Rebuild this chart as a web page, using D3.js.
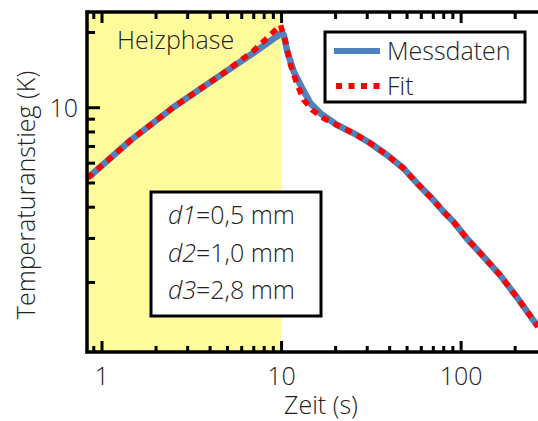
<!DOCTYPE html>
<html>
<head>
<meta charset="utf-8">
<script src="https://cdn.jsdelivr.net/npm/d3@7"></script>
<style>
  html, body { margin: 0; padding: 0; background: #fff; }
  svg { display: block; font-family: "Open Sans", "Noto Sans", sans-serif; font-weight: 300; }
</style>
</head>
<body>
<svg id="chart" width="538" height="421"></svg>
<script>
// ---- data ----
const measTime = [0.825, 0.87, 1.45, 2.51, 4.58, 6.99, 10.0, 10.3, 10.76, 11.7, 13.03, 14.49, 16.47, 20.39, 25.22, 31.22, 38.66, 47.8, 56.76, 70.18, 79.75, 90.62, 107.6, 133.0, 164.7, 203.9, 252.2, 268];
const measTemp = [5.25, 5.38, 7.43, 10.07, 13.5, 16.6, 19.9, 19.53, 16.75, 13.93, 11.96, 10.41, 9.5, 8.53, 7.9, 7.21, 6.47, 5.72, 4.99, 4.27, 3.84, 3.5, 3.0, 2.54, 2.14, 1.75, 1.415, 1.33];
const fitTime = [0.825, 0.87, 1.45, 2.51, 4.58, 6.99, 9.87, 10.52, 11.22, 12.23, 13.3, 14.81, 17.18, 21.27, 25.22, 31.22, 38.66, 47.8, 56.76, 70.18, 79.75, 90.62, 107.6, 133.0, 164.7, 203.9, 252.2, 268];
const fitTemp = [5.25, 5.38, 7.43, 10.07, 13.5, 16.9, 21.4, 18.37, 14.82, 12.33, 10.73, 9.79, 9.07, 8.39, 7.9, 7.21, 6.47, 5.72, 4.99, 4.27, 3.84, 3.5, 3.0, 2.54, 2.14, 1.75, 1.415, 1.33];
const heatEnd = 10;                 // end of the heating phase (s)
const xDomain = [0.825, 268];
const yDomain = [1.054, 24.15];
const xTickLabels = ["1", "10", "100"];
const yTickLabels = ["10"];
const seriesNames = ["Messdaten", "Fit"];
const noteLines = [["d1", "=0,5 mm"], ["d2", "=1,0 mm"], ["d3", "=2,8 mm"]];

// ---- layout ----
const L = 87, R = 538, T = 12, B = 352;
const svg = d3.select("#chart");
const x = d3.scaleLog().domain(xDomain).range([L, R]);
const y = d3.scaleLog().domain(yDomain).range([B, T]);
const ink = "#222";
const fontSize = 25;

// heating phase background
svg.append("rect")
  .attr("x", x(xDomain[0])).attr("y", T)
  .attr("width", x(heatEnd) - x(xDomain[0])).attr("height", B - T)
  .attr("fill", "#fffb9a");

svg.append("text").attr("x", 117).attr("y", 49)
  .attr("font-size", fontSize).attr("fill", ink).text("Heizphase");

// annotation box
const nb = svg.append("g");
nb.append("rect").attr("x", 151).attr("y", 192).attr("width", 170).attr("height", 124)
  .attr("fill", "#fff").attr("stroke", "#000").attr("stroke-width", 3);
noteLines.forEach((ln, i) => {
  const t = nb.append("text").attr("x", 168).attr("y", 224 + i * 37.5)
    .attr("font-size", fontSize).attr("fill", ink);
  t.append("tspan").attr("font-style", "italic").text(ln[0]);
  t.append("tspan").text(ln[1]);
});

// curves
svg.append("clipPath").attr("id", "pc").append("rect")
  .attr("x", L).attr("y", T).attr("width", R - L + 10).attr("height", B - T);
const line = d3.line().x(d => x(d[0])).y(d => y(d[1]));
const meas = measTime.map((t, i) => [t, measTemp[i]]);
const fit = fitTime.map((t, i) => [t, fitTemp[i]]);
const cg = svg.append("g").attr("clip-path", "url(#pc)");
cg.append("path").attr("d", line(meas)).attr("fill", "none")
  .attr("stroke", "#4f81bd").attr("stroke-width", 6.5).attr("stroke-linejoin", "round");
cg.append("path").attr("d", line(fit)).attr("fill", "none")
  .attr("stroke", "#ff0000").attr("stroke-width", 5.5).attr("stroke-dasharray", "7,6");

// axes
const ax = svg.append("g").attr("stroke", "#000");
const isMajor = v => Math.abs(Math.log10(v) - Math.round(Math.log10(v))) < 1e-9;
const xt = x.ticks();
ax.selectAll(".xb").data(xt).join("line")
  .attr("x1", d => x(d)).attr("x2", d => x(d))
  .attr("y1", B).attr("y2", d => B - (isMajor(d) ? 11 : 6)).attr("stroke-width", 3);
ax.selectAll(".xt").data(xt).join("line")
  .attr("x1", d => x(d)).attr("x2", d => x(d))
  .attr("y1", T).attr("y2", d => T + (isMajor(d) ? 11 : 7)).attr("stroke-width", 3);
const yt = y.ticks();
ax.selectAll(".yl").data(yt).join("line")
  .attr("x1", L).attr("x2", d => L + (isMajor(d) ? 13 : 8))
  .attr("y1", d => y(d)).attr("y2", d => y(d)).attr("stroke-width", 3);
// frame lines
ax.append("line").attr("x1", L).attr("x2", L).attr("y1", T - 1.5).attr("y2", B + 1.5).attr("stroke-width", 3.5);
ax.append("line").attr("x1", L - 1.5).attr("x2", R).attr("y1", B).attr("y2", B).attr("stroke-width", 3.5);
ax.append("line").attr("x1", L - 1.5).attr("x2", R).attr("y1", T).attr("y2", T).attr("stroke-width", 3.5);

// tick labels
svg.selectAll(".xlab").data(xTickLabels).join("text")
  .attr("x", d => x(+d)).attr("y", 385).attr("text-anchor", "middle")
  .attr("font-size", fontSize).attr("fill", ink).text(d => d);
svg.selectAll(".ylab").data(yTickLabels).join("text")
  .attr("x", 78).attr("y", d => y(+d) + 9).attr("text-anchor", "end")
  .attr("font-size", fontSize).attr("fill", ink).text(d => d);

// axis titles
svg.append("text").attr("x", 321).attr("y", 414).attr("text-anchor", "middle")
  .attr("font-size", fontSize).attr("fill", ink).text("Zeit (s)");
svg.append("text").attr("transform", "translate(35,195) rotate(-90)")
  .attr("text-anchor", "middle").attr("font-size", fontSize).attr("fill", ink)
  .text("Temperaturanstieg (K)");

// legend
const lg = svg.append("g");
lg.append("rect").attr("x", 325).attr("y", 32).attr("width", 200).attr("height", 70)
  .attr("fill", "#fff").attr("stroke", "#000").attr("stroke-width", 3);
lg.append("line").attr("x1", 334).attr("x2", 380).attr("y1", 51).attr("y2", 51)
  .attr("stroke", "#4f81bd").attr("stroke-width", 6);
lg.append("line").attr("x1", 336).attr("x2", 381).attr("y1", 86).attr("y2", 86)
  .attr("stroke", "#ff0000").attr("stroke-width", 6).attr("stroke-dasharray", "6,6.5");
lg.selectAll(".lt").data(seriesNames).join("text")
  .attr("x", 387).attr("y", (d, i) => 60 + i * 35)
  .attr("font-size", fontSize).attr("fill", ink).text(d => d);
</script>
</body>
</html>
